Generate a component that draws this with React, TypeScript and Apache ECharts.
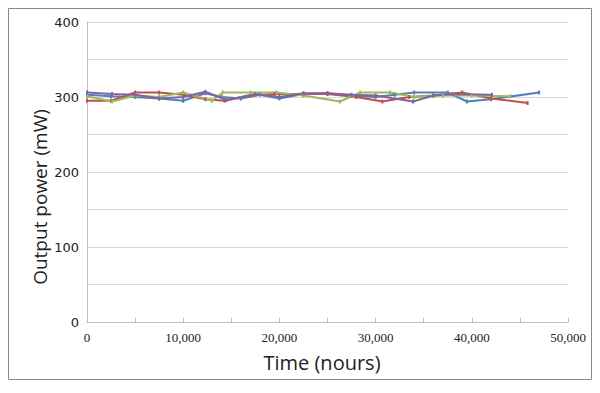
import React, { useEffect, useRef } from "react";
import * as echarts from "echarts";

const blueSeries: [number, number][] = [
  [0, 303], [2500, 301], [5000, 300], [7500, 298], [10000, 295], [12300, 305], [14000, 300],
  [16000, 298], [18000, 303], [20000, 298], [22500, 304], [25000, 305], [27500, 302],
  [30000, 300], [32000, 303], [34000, 306], [37500, 306], [39500, 294], [42000, 297], [47000, 306],
];
const redSeries: [number, number][] = [
  [0, 295], [2500, 295], [5000, 306], [7500, 306], [10000, 303], [12300, 297], [14300, 295],
  [17000, 302], [19500, 304], [22500, 304], [25000, 304], [28000, 300], [30700, 294],
  [33500, 300], [36000, 302], [39000, 306], [42000, 298], [45800, 292],
];
const greenSeries: [number, number][] = [
  [0, 301], [2600, 294], [5000, 302], [7500, 300], [10000, 306], [13000, 295], [14100, 306],
  [17000, 306], [19700, 306], [22500, 302], [26300, 294], [28400, 306], [31500, 306],
  [34000, 300], [37000, 302], [40000, 302], [44000, 301],
];
const purpleSeries: [number, number][] = [
  [0, 306], [2600, 304], [5000, 303], [7500, 298], [10000, 300], [12300, 307], [14500, 296],
  [17500, 304], [20000, 300], [22500, 305], [25000, 305], [27500, 303], [30000, 302],
  [33900, 294], [36000, 302], [38000, 304], [42100, 303],
];

const seriesNames = ["Laser 1", "Laser 2", "Laser 3", "Laser 4"];
const seriesColors = ["#4F81BD", "#C0504D", "#9BBB59", "#8064A2"];
const xTitle = "Time (nours)";
const yTitle = "Output power (mW)";

export default function App() {
  const ref = useRef<HTMLDivElement>(null);
  useEffect(() => {
    if (!ref.current) return;
    const chart = echarts.init(ref.current, undefined, { renderer: "svg" });
    const all = [blueSeries, redSeries, greenSeries, purpleSeries];
    chart.setOption({
      animation: false,
      backgroundColor: "#ffffff",
      grid: { left: 87, right: 32, top: 22, bottom: 71, containLabel: false },
      xAxis: {
        type: "value",
        min: 0,
        max: 50000,
        interval: 5000,
        axisLine: { show: true, lineStyle: { color: "#bfbfbf", width: 1 } },
        axisTick: { show: true, inside: true, length: 4, lineStyle: { color: "#bfbfbf" } },
        splitLine: { show: false },
        axisLabel: {
          margin: 9,
          fontFamily: "Liberation Serif, serif",
          fontSize: 13,
          color: "#222",
          formatter: (v: number) =>
            v % 10000 === 0 ? (v === 0 ? "0" : v.toLocaleString("en-US")) : "",
        },
      },
      yAxis: {
        type: "value",
        min: 0,
        max: 400,
        interval: 50,
        axisLine: { show: true, lineStyle: { color: "#bfbfbf", width: 1 } },
        axisTick: { show: false },
        splitLine: { show: true, lineStyle: { color: "#d9d9d9", width: 1 } },
        axisLabel: {
          margin: 8,
          fontFamily: "DejaVu Sans, sans-serif",
          fontSize: 13,
          color: "#222",
          formatter: (v: number) => (v % 100 === 0 ? String(v) : ""),
        },
      },
      graphic: [
        {
          type: "rect",
          shape: { x: 8.5, y: 8.5, width: 583, height: 371 },
          style: { fill: "none", stroke: "#888", lineWidth: 1 },
          silent: true,
          z: -1,
        },
        {
          type: "text",
          x: 322,
          y: 362,
          style: {
            text: xTitle,
            fontFamily: "Open Sans, sans-serif",
            fontSize: 20,
            fill: "#222",
            align: "center",
            verticalAlign: "middle",
          },
        },
        {
          type: "text",
          x: 40,
          y: 197,
          rotation: Math.PI / 2,
          style: {
            text: yTitle,
            fontFamily: "Open Sans, sans-serif",
            fontSize: 19,
            fill: "#222",
            align: "center",
            verticalAlign: "middle",
          },
        },
      ],
      series: all.map((d, i) => ({
        name: seriesNames[i],
        type: "line",
        data: d,
        showSymbol: true,
        symbol: "rect",
        symbolSize: [2, 4],
        lineStyle: { color: seriesColors[i], width: 2 },
        itemStyle: { color: seriesColors[i] },
      })),
    });
    return () => chart.dispose();
  }, []);
  return <div ref={ref} style={{ width: 600, height: 393, position: "absolute", left: 0, top: 0 }} />;
}
